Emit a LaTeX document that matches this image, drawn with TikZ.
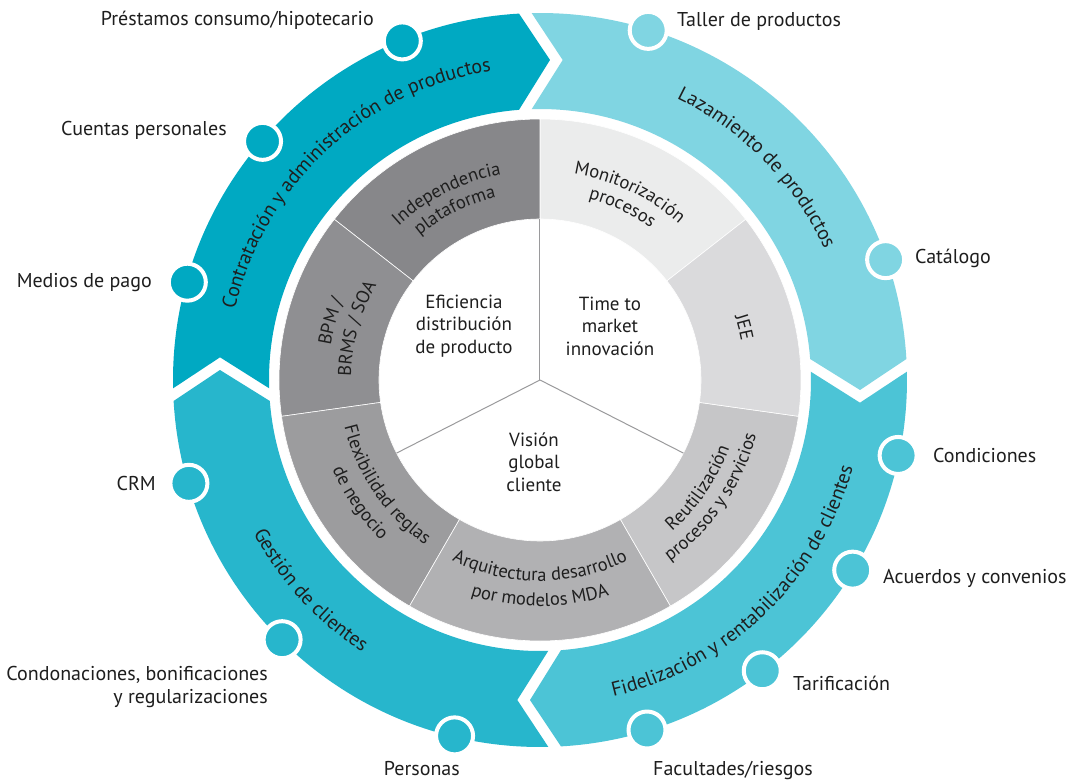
\documentclass[tikz,border=0pt]{standalone}
\usepackage{fontspec}
\setmainfont{PT Sans}
\usetikzlibrary{decorations.text}
\definecolor{cA}{HTML}{00A9C2}
\definecolor{cB}{HTML}{80D5E2}
\definecolor{cC}{HTML}{4CC4D6}
\definecolor{cD}{HTML}{27B6CC}
\definecolor{g1}{HTML}{87878A}
\definecolor{g2}{HTML}{8F8F92}
\definecolor{g3}{HTML}{9C9C9E}
\definecolor{g4}{HTML}{B1B1B3}
\definecolor{g5}{HTML}{C6C6C8}
\definecolor{g6}{HTML}{DADADC}
\definecolor{g7}{HTML}{EBECEC}
\definecolor{txt}{HTML}{1E1E1E}
\definecolor{cl}{HTML}{9A9A9C}
\newcommand\lblfont{\fontsize{20}{22.5}\selectfont}
\newcommand\arcfont{\fontsize{20}{22}\selectfont}
\newcommand\segfont{\fontsize{18.5}{21}\selectfont}
\newcommand\ringArrow[2]{%
  \pgfmathsetmacro\Bang{#1-90}%
  \fill[#2] (#1+1.30:367) arc[start angle=#1+1.30, end angle=\Bang+3.28, radius=367]
    -- (\Bang-1.79:320.2) -- (\Bang+4.44:271)
    arc[start angle=\Bang+4.44, end angle=#1+1.75, radius=271]
    -- (#1-4.06:320.8) -- cycle;}
\newcommand\graySector[3]{%
  \fill[#3, draw=white, line width=0.6pt] (#1:261) arc[start angle=#1, end angle=#2, radius=261]
    -- (#2:161) arc[start angle=#2, end angle=#1, radius=161] -- cycle;}
\newcommand\arcTextCW[4]{%
  \path[decorate, decoration={text along path, text align=center, text color=txt, text={|#3|#4}}]
    (#1+60:#2) arc[start angle=#1+60, end angle=#1-60, radius=#2];}
\newcommand\arcTextCCW[4]{%
  \path[decorate, decoration={text along path, text align=center, text color=txt, text={|#3|#4}}]
    (#1-60:#2) arc[start angle=#1-60, end angle=#1+60, radius=#2];}
\tikzset{
  lbl/.style={font=\lblfont, text=txt, inner sep=0pt},
  ctext/.style={font=\fontsize{19}{22.5}\selectfont, text=txt, inner sep=0pt, align=center},
  dotn/.style={circle, minimum size=37pt, inner sep=0pt, draw=white, line width=4pt},
  cline/.style={draw=cl, line width=1pt}
}
\begin{document}
\begin{tikzpicture}[x=1pt,y=1pt]
\useasboundingbox (-540,-400) rectangle (542,380);
\fill[white] (-540,-400) rectangle (542,380);
% outer ring arrows
\ringArrow{180}{cA}
\ringArrow{90}{cB}
\ringArrow{0}{cC}
\ringArrow{-90}{cD}
% gray ring
\graySector{38}{90}{g7}
\graySector{90}{142}{g1}
\graySector{142}{188}{g2}
\graySector{188}{240}{g3}
\graySector{240}{300}{g4}
\graySector{300}{352}{g5}
\graySector{352}{398}{g6}
% center lines
\coordinate (O) at (0,0);
\coordinate (L1) at (90:161);
\coordinate (L2) at (-27:161);
\coordinate (L3) at (-153:161);
\draw[cline] (O) -- (L1);
\draw[cline] (O) -- (L2);
\draw[cline] (O) -- (L3);
% center texts
\node[ctext] (cEf) at (-76,54) {Eficiencia\\distribución\\de producto};
\node[ctext] (cTm) at (70,54) {Time to\\market\\innovación};
\node[ctext] (cVg) at (-6,-82) {Visión\\global\\cliente};
% gray ring texts
\arcTextCW{64.5}{209}{\segfont}{Monitorización}
\arcTextCW{64.5}{188}{\segfont}{procesos}
\arcTextCW{116.6}{209}{\segfont}{Independencia}
\arcTextCW{116.6}{188}{\segfont}{plataforma}
\arcTextCW{164.3}{212}{\segfont}{BPM /}
\arcTextCW{164.3}{189}{\segfont}{BRMS / SOA}
\arcTextCW{14.5}{205}{\segfont}{JEE}
\arcTextCCW{214.3}{201}{\segfont}{Flexibilidad reglas}
\arcTextCCW{214.3}{226}{\segfont}{de negocio}
\arcTextCCW{270}{201}{\segfont}{Arquitectura desarrollo}
\arcTextCCW{270}{226}{\segfont}{por modelos MDA}
\arcTextCCW{-34.3}{201}{\segfont}{Reutilización}
\arcTextCCW{-34.3}{223}{\segfont}{procesos y servicios}
% ring texts
\arcTextCW{133}{313}{\arcfont}{Contratación y administración de productos}
\arcTextCW{44.4}{313}{\arcfont}{Lazamiento de productos}
\arcTextCCW{-46.3}{325}{\arcfont}{Fidelización y rentabilización de clientes}
\arcTextCCW{-137.5}{325}{\arcfont}{Gestión de clientes}
% dots
\node[dotn, fill=cA] (dPrest) at (112.1:366) {};
\node[dotn, fill=cA] (dCuent) at (139.3:366) {};
\node[dotn, fill=cA] (dMedio) at (164.5:366) {};
\node[dotn, fill=cB] (dTalle) at (72.8:366) {};
\node[dotn, fill=cB] (dCatal) at (19.2:366) {};
\node[dotn, fill=cC] (dCondi) at (-11.9:366) {};
\node[dotn, fill=cC] (dAcuer) at (-31.3:366) {};
\node[dotn, fill=cC] (dTarif) at (-52.6:366) {};
\node[dotn, fill=cC] (dFacul) at (-73:366) {};
\node[dotn, fill=cD] (dPerso) at (-103.5:366) {};
\node[dotn, fill=cD] (dCondo) at (-134.8:366) {};
\node[dotn, fill=cD] (dCRM) at (-163.6:366) {};
% labels
\node[lbl, anchor=base east] (lPrest) at (-166,354) {Préstamos consumo/hipotecario};
\node[lbl, anchor=base east] (lCuent) at (-313,245) {Cuentas personales};
\node[lbl, anchor=base east] (lMedio) at (-388,93) {Medios de pago};
\node[lbl, anchor=base west] (lTalle) at (137,353) {Taller de productos};
\node[lbl, anchor=base west] (lCatal) at (375,117) {Catálogo};
\node[lbl, anchor=base west] (lCondi) at (393,-82) {Condiciones};
\node[lbl, anchor=base west] (lAcuer) at (343,-203) {Acuerdos y convenios};
\node[lbl, anchor=base west] (lTarif) at (253,-310) {Tarificación};
\node[lbl, anchor=base west] (lFacul) at (113,-395) {Facultades/riesgos};
\node[lbl, anchor=base east] (lPerso) at (-80,-395) {Personas};
\node[lbl, anchor=base east] (lCRM) at (-384,-110) {CRM};
\node[lbl, anchor=east, align=right] (lCondo) at (-272,-307) {Condonaciones, bonificaciones\\y regularizaciones};
\end{tikzpicture}
\end{document}
